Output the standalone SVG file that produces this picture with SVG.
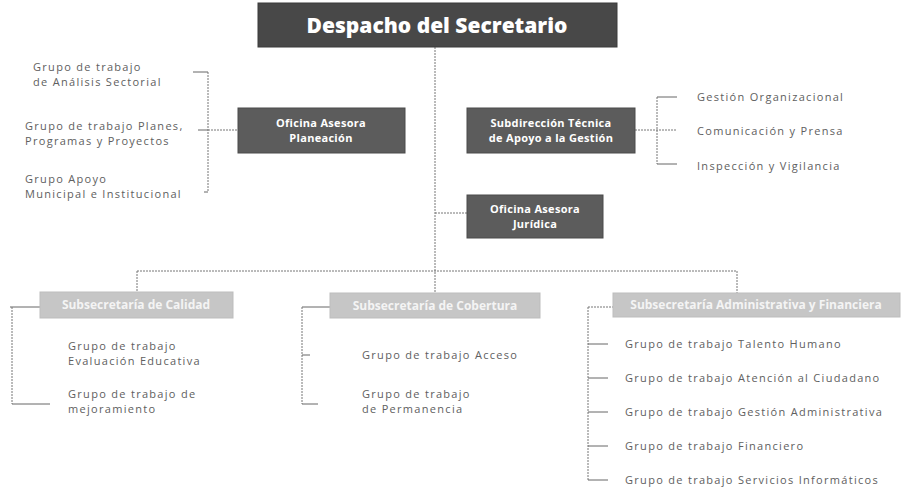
<svg xmlns="http://www.w3.org/2000/svg" width="901" height="487" viewBox="0 0 901 487">
<style>
.dark{fill:#5c5c5c;stroke:#4a4a4a;stroke-width:1}
.title{fill:#484848;stroke:#3a3a3a;stroke-width:1}
.light{fill:#c6c6c6;stroke:#bdbdbd;stroke-width:1}
.bt{font-family:"Open Sans","Liberation Sans",sans-serif;font-weight:bold;font-size:11px;fill:#ffffff;text-anchor:middle;letter-spacing:0.3px}
.lt{font-family:"Open Sans","Liberation Sans",sans-serif;font-weight:bold;font-size:12px;fill:#f4f4f4;text-anchor:middle}
.tt{font-family:"Open Sans","Liberation Sans",sans-serif;font-weight:800;font-size:21px;fill:#ffffff;text-anchor:middle}
.gt{font-family:"Open Sans","Liberation Sans",sans-serif;font-size:11px;fill:#606060;letter-spacing:1.3px}
.c{stroke:#777777;stroke-width:1;fill:none;stroke-dasharray:2 1}
.s{stroke:#666666;stroke-width:1;fill:none}
</style>
<g id="connectors">
<path class="c" d="M435 47 V293"/>
<path class="c" d="M435 213 H467"/>
<path class="c" d="M137 271 H737"/>
<path class="c" d="M137 271 V292"/>
<path class="c" d="M737 271 V293"/>
<path class="c" d="M208 130 H238"/>
<path class="c" d="M208 72 V192"/>
<path class="s" d="M193 72 H208"/>
<path class="s" d="M198 130 H208"/>
<path class="s" d="M204 192 H208"/>
<path class="c" d="M635 130 H677"/>
<path class="c" d="M657 97 V164"/>
<path class="s" d="M657 97 H677"/>
<path class="s" d="M657 164 H677"/>
<path class="s" d="M10 307 H40"/>
<path class="c" d="M12 307 V404"/>
<path class="s" d="M12 404 H50"/>
<path class="s" d="M302 307 H330"/>
<path class="c" d="M302 307 V404"/>
<path class="s" d="M302 355 H310"/>
<path class="s" d="M302 404 H318"/>
<path class="c" d="M588 307 H613"/>
<path class="c" d="M588 307 V480"/>
<path class="s" d="M588 344 H608"/>
<path class="s" d="M588 378 H608"/>
<path class="s" d="M588 412 H608"/>
<path class="s" d="M588 446 H608"/>
<path class="s" d="M588 480 H608"/>
</g>
<g id="despacho">
<rect class="title" x="258" y="3" width="359" height="44"/>
<text class="tt" x="437" y="33">Despacho del Secretario</text>
</g>
<g id="planeacion">
<rect class="dark" x="238" y="108" width="167" height="45"/>
<text class="bt" x="321" y="127">Oficina Asesora</text>
<text class="bt" x="321" y="142">Planeación</text>
</g>
<g id="subdireccion">
<rect class="dark" x="467" y="108" width="168" height="45"/>
<text class="bt" x="551" y="127">Subdirección Técnica</text>
<text class="bt" x="551" y="142">de Apoyo a la Gestión</text>
</g>
<g id="juridica">
<rect class="dark" x="467" y="195" width="136" height="43"/>
<text class="bt" x="535" y="213">Oficina Asesora</text>
<text class="bt" x="535" y="228">Jurídica</text>
</g>
<g id="calidad">
<rect class="light" x="40" y="292" width="193" height="26"/>
<text class="lt" x="136" y="309">Subsecretaría de Calidad</text>
</g>
<g id="cobertura">
<rect class="light" x="330" y="293" width="210" height="25"/>
<text class="lt" x="435" y="310">Subsecretaría de Cobertura</text>
</g>
<g id="administrativa">
<rect class="light" x="613" y="293" width="287" height="24"/>
<text class="lt" x="756" y="309">Subsecretaría Administrativa y Financiera</text>
</g>
<g id="grupos-planeacion">
<text class="gt" x="33" y="71">Grupo de trabajo</text>
<text class="gt" x="33" y="86">de Análisis Sectorial</text>
<text class="gt" x="25" y="130">Grupo de trabajo Planes,</text>
<text class="gt" x="25" y="145">Programas y Proyectos</text>
<text class="gt" x="25" y="183">Grupo Apoyo</text>
<text class="gt" x="25" y="198">Municipal e Institucional</text>
</g>
<g id="grupos-subdireccion">
<text class="gt" x="697" y="101">Gestión Organizacional</text>
<text class="gt" x="697" y="135">Comunicación y Prensa</text>
<text class="gt" x="697" y="170">Inspección y Vigilancia</text>
</g>
<g id="grupos-calidad">
<text class="gt" x="68" y="350">Grupo de trabajo</text>
<text class="gt" x="68" y="365">Evaluación Educativa</text>
<text class="gt" x="68" y="398">Grupo de trabajo de</text>
<text class="gt" x="68" y="413">mejoramiento</text>
</g>
<g id="grupos-cobertura">
<text class="gt" x="362" y="359">Grupo de trabajo Acceso</text>
<text class="gt" x="362" y="398">Grupo de trabajo</text>
<text class="gt" x="362" y="413">de Permanencia</text>
</g>
<g id="grupos-administrativa">
<text class="gt" x="625" y="348">Grupo de trabajo Talento Humano</text>
<text class="gt" x="625" y="382">Grupo de trabajo Atención al Ciudadano</text>
<text class="gt" x="625" y="416">Grupo de trabajo Gestión Administrativa</text>
<text class="gt" x="625" y="450">Grupo de trabajo Financiero</text>
<text class="gt" x="625" y="484">Grupo de trabajo Servicios Informáticos</text>
</g>
</svg>
